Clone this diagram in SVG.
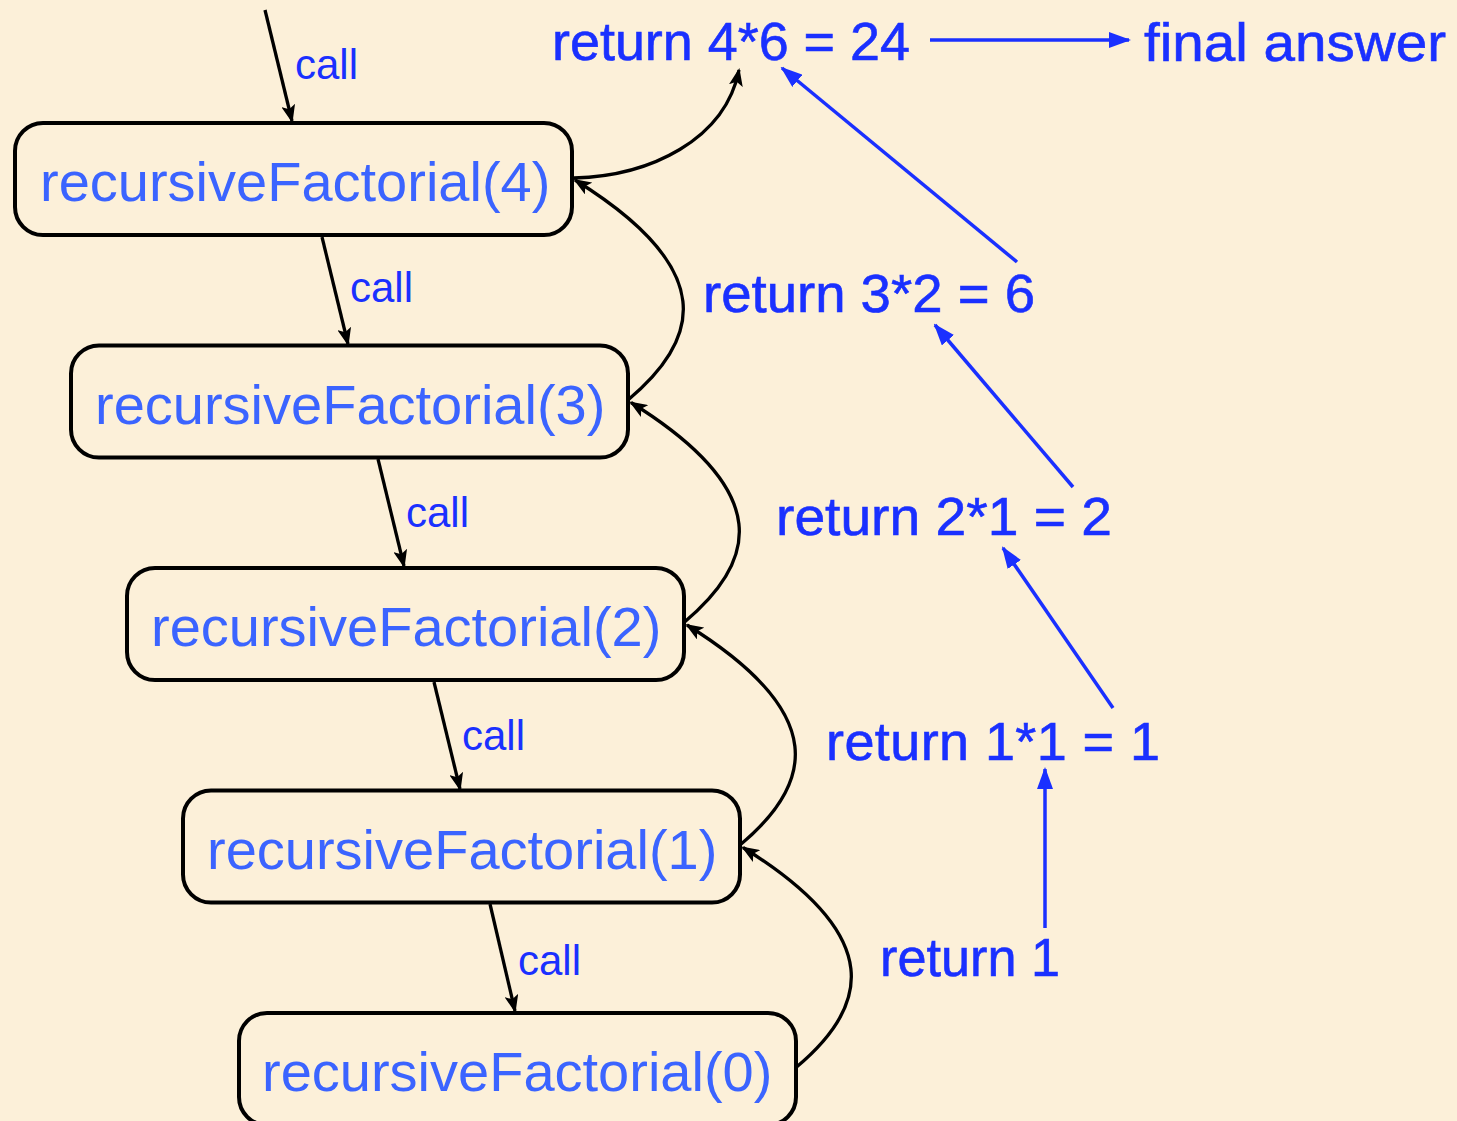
<svg xmlns="http://www.w3.org/2000/svg" width="1457" height="1121" viewBox="0 0 1457 1121">
<style>
.box{fill:#FCF0D9;stroke:#000;stroke-width:4}
.ntext{font-family:"Liberation Sans",Arial,sans-serif;font-size:56px;fill:#3B64FF}
.rtext{font-family:"Liberation Sans",Arial,sans-serif;font-size:54px;fill:#1A30FF;stroke:#1A30FF;stroke-width:0.6}
.ctext{font-family:"Liberation Sans",Arial,sans-serif;font-size:42px;fill:#1A30FF}
.blk{fill:none;stroke:#000;stroke-width:3.3}
.blu{fill:none;stroke:#1A30FF;stroke-width:3.5}
</style>
<defs>
<marker id="ab" markerUnits="userSpaceOnUse" viewBox="0 0 18 14" markerWidth="18" markerHeight="14" refX="16" refY="7" orient="auto">
<path d="M0,0 L18,7 L0,14 L4,7 z" fill="#000"/>
</marker>
<marker id="au" markerUnits="userSpaceOnUse" viewBox="0 0 22 16" markerWidth="22" markerHeight="16" refX="20" refY="8" orient="auto">
<path d="M0,0 L22,8 L0,16 z" fill="#1A30FF"/>
</marker>
</defs>
<rect x="0" y="0" width="1457" height="1121" fill="#FCF0D9"/>

<g id="connectors">
<path class="blk" marker-end="url(#ab)" d="M265,10 L292,121"/>
<path class="blk" marker-end="url(#ab)" d="M322,237 L348,344"/>
<path class="blk" marker-end="url(#ab)" d="M378,459 L404,566"/>
<path class="blk" marker-end="url(#ab)" d="M434,682 L460,789"/>
<path class="blk" marker-end="url(#ab)" d="M490,904 L515,1011"/>
<path class="blk" marker-end="url(#ab)" d="M574,178 C650,176 725,140 739,70"/>
<path class="blk" marker-end="url(#ab)" d="M628,400 C700,340 720,270 575,180"/>
<path class="blk" marker-end="url(#ab)" d="M684,622.5 C756,562.5 776,492.5 631,402.5"/>
<path class="blk" marker-end="url(#ab)" d="M740,845 C812,785 832,715 687,625"/>
<path class="blk" marker-end="url(#ab)" d="M796,1067.5 C868,1007.5 888,937.5 743,847.5"/>
<path class="blu" marker-end="url(#au)" d="M930,40 L1129,40"/>
<path class="blu" marker-end="url(#au)" d="M1017,262 L782,68"/>
<path class="blu" marker-end="url(#au)" d="M1073,487 L935,325"/>
<path class="blu" marker-end="url(#au)" d="M1113,708 L1003,548"/>
<path class="blu" marker-end="url(#au)" d="M1045,928 L1045,769"/>
<text class="ctext" x="295" y="79">call</text>
<text class="ctext" x="350" y="302">call</text>
<text class="ctext" x="406" y="527">call</text>
<text class="ctext" x="462" y="750">call</text>
<text class="ctext" x="518" y="975">call</text>
<text class="rtext" x="552" y="60" textLength="358" lengthAdjust="spacingAndGlyphs">return 4*6 = 24</text>
<text class="rtext" x="1144" y="61" textLength="302" lengthAdjust="spacingAndGlyphs">final answer</text>
<text class="rtext" x="703" y="312" textLength="332" lengthAdjust="spacingAndGlyphs">return 3*2 = 6</text>
<text class="rtext" x="776" y="535" textLength="336" lengthAdjust="spacingAndGlyphs">return 2*1 = 2</text>
<text class="rtext" x="826" y="760" textLength="334" lengthAdjust="spacing">return 1*1 = 1</text>
<text class="rtext" x="880" y="976" textLength="180" lengthAdjust="spacingAndGlyphs">return 1</text>
</g>

<g id="n4"><rect class="box" x="15" y="123" width="557" height="112" rx="28"/><text class="ntext" x="40" y="201">recursiveFactorial(4)</text></g>
<g id="n3"><rect class="box" x="71" y="345.5" width="557" height="112" rx="28"/><text class="ntext" x="95" y="423.5">recursiveFactorial(3)</text></g>
<g id="n2"><rect class="box" x="127" y="568" width="557" height="112" rx="28"/><text class="ntext" x="151" y="646">recursiveFactorial(2)</text></g>
<g id="n1"><rect class="box" x="183" y="790.5" width="557" height="112" rx="28"/><text class="ntext" x="207" y="868.5">recursiveFactorial(1)</text></g>
<g id="n0"><rect class="box" x="239" y="1013" width="557" height="112" rx="28"/><text class="ntext" x="262" y="1091">recursiveFactorial(0)</text></g>
</svg>
